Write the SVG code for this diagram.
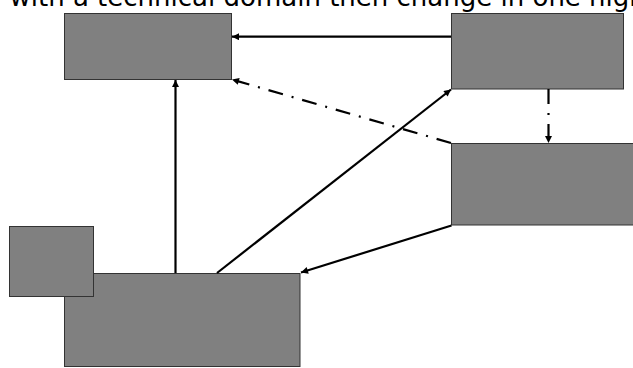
<svg xmlns="http://www.w3.org/2000/svg" width="633" height="368" viewBox="0 0 633 368">
  <style>
    .box { fill: #808080; stroke: #333333; stroke-width: 1; }
    .ln { fill: none; stroke: #000000; stroke-width: 2.2; }
    .dd { stroke-dasharray: 15 9 2 9; }
    .txt { font-family: "DejaVu Sans", Verdana, sans-serif; font-size: 26px; fill: #000000; }
  </style>
  <defs>
    <marker id="arr" viewBox="0 0 10 10" refX="10" refY="5" markerWidth="9" markerHeight="7" markerUnits="userSpaceOnUse" orient="auto">
      <path d="M0,0 L10,5 L0,10 z" fill="#000000"/>
    </marker>
  </defs>
  <text class="txt" x="9.5" y="6">with a technical domain then change in one high</text>
  <g id="nodeA"><rect class="box" x="64.5" y="13.5" width="167" height="66"/></g>
  <g id="nodeB"><rect class="box" x="451.5" y="13.5" width="172" height="75.5"/></g>
  <g id="nodeC"><rect class="box" x="451.5" y="143.5" width="190" height="81.5"/></g>
  <g id="nodeE"><rect class="box" x="64.5" y="273.5" width="235.5" height="93"/></g>
  <g id="nodeD"><rect class="box" x="9.5" y="226.5" width="84" height="70"/></g>
  <g id="connectors">
    <line class="ln" x1="451" y1="36.7" x2="232" y2="36.7" marker-end="url(#arr)"/>
    <line class="ln dd" x1="451" y1="143" x2="232" y2="79.5" marker-end="url(#arr)"/>
    <line class="ln dd" x1="548.5" y1="89" x2="548.5" y2="143" marker-end="url(#arr)"/>
    <line class="ln" x1="175.5" y1="273" x2="175.5" y2="80" marker-end="url(#arr)"/>
    <line class="ln" x1="217" y1="273" x2="451" y2="89.5" marker-end="url(#arr)"/>
    <line class="ln" x1="451.5" y1="225.5" x2="301" y2="272.5" marker-end="url(#arr)"/>
  </g>
</svg>
